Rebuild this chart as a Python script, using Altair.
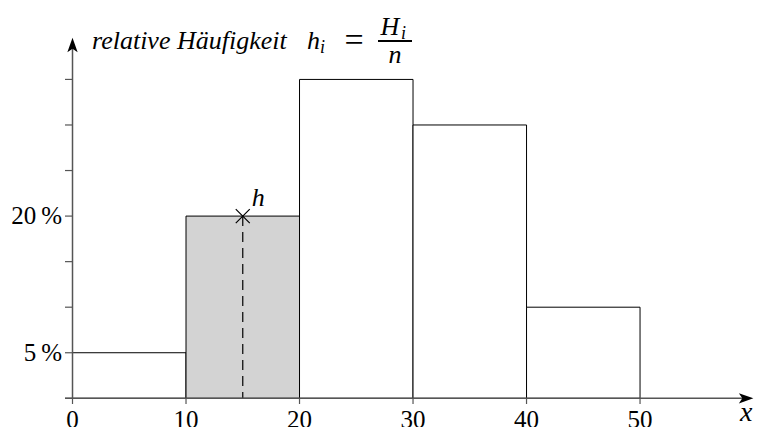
import altair as alt
import pandas as pd

# ---- data ----
class_lo = [0, 10, 20, 30, 40]
class_hi = [10, 20, 30, 40, 50]
rel_freq = [5, 20, 35, 30, 10]          # percent
highlight = [False, True, False, False, False]

y_tick_values = [0, 5, 10, 15, 20, 25, 30, 35]
y_label_values = [5, 20]
y_label_texts = ["5\u2009%", "20\u2009%"]
x_tick_values = [0, 10, 20, 30, 40, 50]
x_tick_texts = ["0", "10", "20", "30", "40", "50"]

mark_x = [15]
mark_y = [20]

W, H = 746, 419
FONT = "Liberation Serif"
AX = "#555555"

xs = alt.Scale(domain=[-5.683, 60.04], nice=False, zero=False)
ys = alt.Scale(domain=[-3.15, 42.84], nice=False, zero=False)

bars = pd.DataFrame({"lo": class_lo, "hi": class_hi, "h": rel_freq,
                     "hl": highlight, "zero": [0] * len(class_lo)})
yt = pd.DataFrame({"v": y_tick_values})
yl = pd.DataFrame({"v": y_label_values, "t": y_label_texts})
xt = pd.DataFrame({"v": x_tick_values, "t": x_tick_texts})
mk = pd.DataFrame({"x": mark_x, "y": mark_y, "zero": [0]})

rects = alt.Chart(bars).mark_rect(stroke="black", strokeWidth=1).encode(
    x=alt.X("lo:Q", scale=xs, axis=None),
    x2="hi:Q",
    y=alt.Y("h:Q", scale=ys, axis=None),
    y2="zero:Q",
    fill=alt.condition("datum.hl", alt.value("#d3d3d3"), alt.value("white")),
)

# axes
x_axis = alt.Chart(mk).mark_rule(color=AX, strokeWidth=1.5).encode(
    x=alt.value(57), x2=alt.value(737), y=alt.datum(0, scale=ys))
y_axis = alt.Chart(mk).mark_rule(color=AX, strokeWidth=1.5).encode(
    x=alt.datum(0, scale=xs), y=alt.datum(0, scale=ys), y2=alt.value(38))

arrow_path = "M0,-1L0.55,0.55L0,0.18L-0.55,0.55Z"
y_arrow = alt.Chart(mk).mark_point(shape=arrow_path, filled=True, color="black",
                                   size=350, opacity=1).encode(
    x=alt.datum(0, scale=xs), y=alt.value(39))
x_arrow = alt.Chart(mk).mark_point(shape=arrow_path, filled=True, color="black",
                                   size=350, opacity=1, angle=90).encode(
    x=alt.value(736), y=alt.datum(0, scale=ys))

y_ticks = alt.Chart(yt).mark_rule(color=AX, strokeWidth=1.2).encode(
    x=alt.datum(0, scale=xs), x2=alt.value(57), y=alt.Y("v:Q", scale=ys))
x_ticks = alt.Chart(xt).mark_rule(color=AX, strokeWidth=1.2).encode(
    x=alt.X("v:Q", scale=xs), y=alt.datum(0, scale=ys), y2=alt.value(396))

y_labels = alt.Chart(yl).mark_text(font=FONT, fontSize=25, align="right",
                                   baseline="alphabetic", dy=8, color="black").encode(
    x=alt.value(54), y=alt.Y("v:Q", scale=ys), text="t:N")
x_labels = alt.Chart(xt).mark_text(font=FONT, fontSize=25, align="center",
                                   baseline="alphabetic", dy=30, color="black").encode(
    x=alt.X("v:Q", scale=xs), y=alt.datum(0, scale=ys), text="t:N")

# marker, dashed line, label h
dash = alt.Chart(mk).mark_rule(color="black", strokeWidth=1.2, strokeDash=[10, 6]).encode(
    x=alt.X("x:Q", scale=xs), y=alt.Y("y:Q", scale=ys), y2="zero:Q")
cross = alt.Chart(mk).mark_point(shape="M-1,-1L1,1M-1,1L1,-1", filled=False,
                                 color="black", strokeWidth=1.2, size=196, opacity=1).encode(
    x=alt.X("x:Q", scale=xs), y=alt.Y("y:Q", scale=ys))
h_label = alt.Chart(mk).mark_text(text="h", font=FONT, fontStyle="italic", fontSize=26,
                                  align="left", baseline="alphabetic", dx=9, dy=-10,
                                  color="black").encode(
    x=alt.X("x:Q", scale=xs), y=alt.Y("y:Q", scale=ys))

x_name = alt.Chart(mk).mark_text(text="x", font=FONT, fontStyle="italic", fontSize=28,
                                 align="left", baseline="alphabetic", color="black").encode(
    x=alt.value(732), y=alt.value(413))

# y-axis title  relative Häufigkeit  h_i = H_i / n
def txt(t, px, py, size=26, italic=True, align="left"):
    return alt.Chart(mk).mark_text(text=t, font=FONT, fontSize=size,
                                   fontStyle="italic" if italic else "normal",
                                   align=align, baseline="alphabetic",
                                   color="black").encode(x=alt.value(px), y=alt.value(py))

title_parts = [
    txt("relative Häufigkeit", 84, 41, size=26),
    txt("h", 299, 41, size=26),
    txt("i", 312, 45, size=18),
    txt("=", 346, 43, size=34, italic=False, align="center"),
    txt("H", 382, 27, size=26, align="center"),
    txt("i", 393, 31, size=18),
    txt("n", 387, 55, size=26, align="center"),
]
frac_line = alt.Chart(mk).mark_rule(color="black", strokeWidth=2).encode(
    x=alt.value(370), x2=alt.value(404), y=alt.value(33))

chart = alt.layer(
    rects, dash, x_axis, y_axis, y_ticks, x_ticks, y_arrow, x_arrow,
    y_labels, x_labels, cross, h_label, x_name, frac_line, *title_parts
).properties(
    width=W, height=H, autosize=alt.AutoSizeParams(type="none"),
    padding=0, background="white"
).configure_view(stroke=None)

chart.save("out.html", embed_options={"renderer": "svg", "actions": False})
